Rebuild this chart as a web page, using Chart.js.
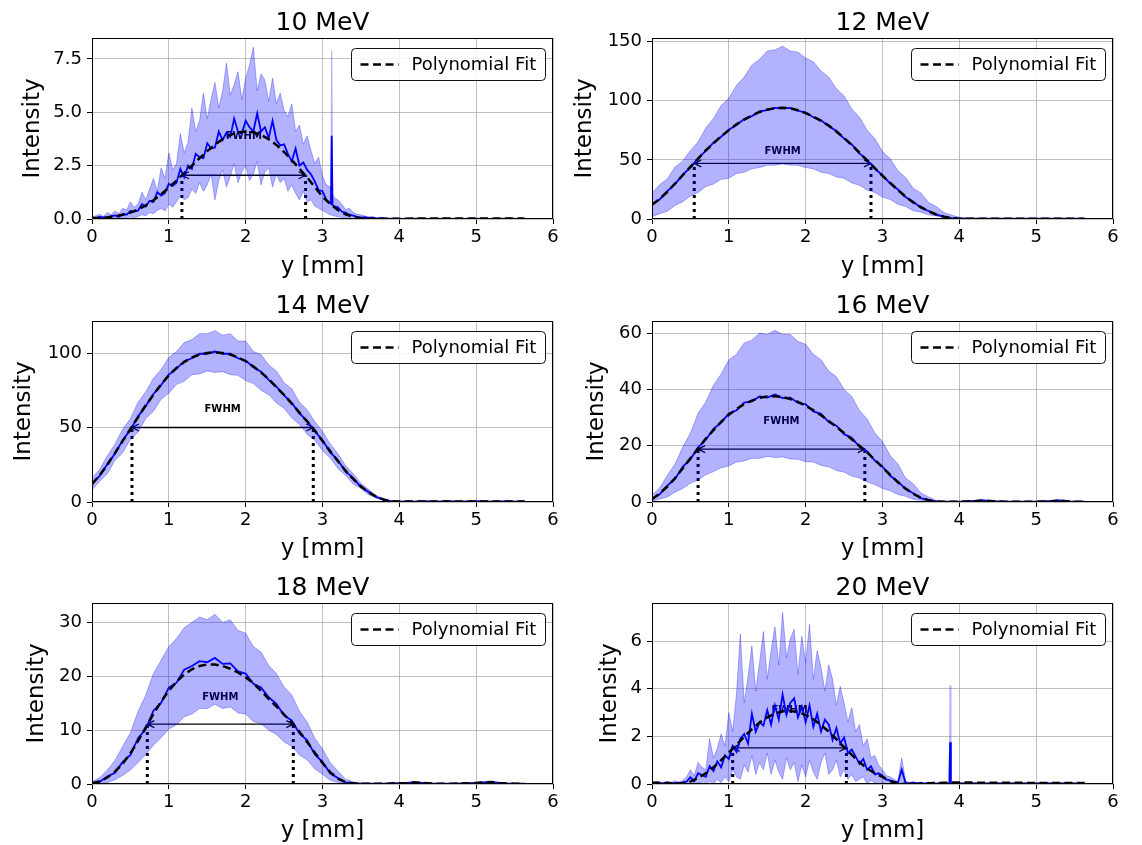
<!DOCTYPE html>
<html>
<head>
<meta charset="utf-8">
<script src="https://cdn.jsdelivr.net/npm/chart.js@4.4.1/dist/chart.umd.min.js"></script>
<style>
  body { margin: 0; background: #fff; }
  #page { position: relative; width: 1142px; height: 845px; overflow: hidden; }
  .cell { position: absolute; }
</style>
</head>
<body>
<div id="page"></div>
<script>
// x grids (mm)
const xCoarse = [0,0.1,0.2,0.3,0.4,0.5,0.6,0.7,0.8,0.9,
  1,1.1,1.2,1.3,1.4,1.5,1.6,1.7,1.8,1.9,
  2,2.1,2.2,2.3,2.4,2.5,2.6,2.7,2.8,2.9,
  3,3.1,3.2,3.3,3.4,3.5,3.6,3.7,3.8,3.9,
  4,4.1,4.2,4.3,4.4,4.5,4.6,4.7,4.8,4.9,
  5,5.1,5.2,5.3,5.4,5.5,5.63];
const xFine = [0,0.05,0.1,0.15,0.2,0.25,0.3,0.35,0.4,0.45,
  0.5,0.55,0.6,0.65,0.7,0.75,0.8,0.85,0.9,0.95,
  1,1.05,1.1,1.15,1.2,1.25,1.3,1.35,1.4,1.45,
  1.5,1.55,1.6,1.65,1.7,1.75,1.8,1.85,1.9,1.95,
  2,2.05,2.1,2.15,2.2,2.25,2.3,2.35,2.4,2.45,
  2.5,2.55,2.6,2.65,2.7,2.75,2.8,2.85,2.9,2.95,
  3,3.05,3.1,3.15,3.2,3.25,3.3,3.35,3.4,3.45,
  3.5,3.55,3.6,3.65,3.7,3.75,3.8,3.85,3.9,3.95,
  4,4.2,4.4,4.6,4.8,5,5.2,5.4,5.63];

const titles = ['10 MeV', '12 MeV', '14 MeV', '16 MeV', '18 MeV', '20 MeV'];

// 10 MeV (fine grid for measured, coarse for fit)
const mean10 = [0.06,0.04,0.1,0.08,0.05,0.13,0.17,0.1,0.24,0.2,
  0.38,0.35,0.4,0.7,0.58,0.85,0.8,1.25,1.1,1.22,
  1.65,1.55,1.7,2.35,1.95,2.5,2.35,3.05,2.9,2.85,
  3.55,3.3,3.35,4.1,3.7,4.05,3.85,4.7,4.1,4.0,
  4.6,4.3,4.1,4.95,4.1,4.3,3.8,4.6,3.7,3.45,
  3.5,3.05,2.7,3.3,2.5,2.65,2.3,2.1,1.75,1.35,
  1.3,0.9,0.75,0.6,0.55,0.35,0.3,0.2,0.16,0.1,
  0.06,0.09,0.04,0.05,0.02,0.04,0.03,0.01,0.02,0.02,
  0.01,0.02,0.01,0.02,0.01,0.02,0.01,0.02,0.01];
const upper10 = [0.1,0.15,0.22,0.12,0.3,0.2,0.38,0.25,0.5,0.42,
  0.8,0.55,0.7,1.25,0.9,1.4,1.9,1.3,2.4,1.9,
  3.1,2.3,2.6,4.0,3.1,3.6,5.2,4.1,4.6,5.9,
  4.7,5.6,6.4,5.2,6.0,7.3,5.8,6.3,6.9,5.6,
  6.6,7.2,8.05,6.0,6.8,6.5,5.5,6.6,5.4,5.9,
  5.1,4.8,5.4,4.1,4.4,3.5,3.9,3.2,2.6,2.9,
  2.0,1.6,1.5,1.0,0.9,0.7,0.45,0.5,0.3,0.22,
  0.2,0.14,0.1,0.12,0.06,0.08,0.05,0.03,0.04,0.02,
  0.03,0.02,0.03,0.02,0.03,0.02,0.03,0.02,0.02];
const lower10 = [0,0.01,0,0.02,0.01,0,0.04,0.02,0.05,0.03,
  0.1,0.06,0.12,0.2,0.15,0.3,0.25,0.4,0.5,0.38,
  0.7,0.55,0.8,1.1,0.9,1.0,1.4,1.2,1.7,1.3,
  1.6,2.1,0.9,1.8,2.3,1.5,2.0,2.6,1.7,2.2,
  2.5,1.8,2.1,2.7,1.6,2.2,2.4,1.5,2.1,1.7,
  1.9,1.3,1.6,1.2,0.9,1.3,0.8,0.9,0.6,0.5,
  0.4,0.3,0.2,0.15,0.1,0.08,0.05,0.03,0.02,0,
  0,0,0,0,0,0,0,0,0,0,
  0,0,0,0,0,0,0,0,0];
const fit10 = [0.05,0.06,0.08,0.12,0.2,0.3,0.45,0.64,0.88,1.16,
  1.47,1.8,2.15,2.5,2.85,3.18,3.48,3.74,3.94,4.06,
  4.1,4.06,3.94,3.74,3.47,3.14,2.76,2.36,1.95,1.5,
  1.05,0.7,0.42,0.22,0.1,0.04,0.02,0.01,0.01,0.01,
  0.01,0.01,0.02,0.02,0.02,0.02,0.02,0.02,0.02,0.02,
  0.02,0.02,0.02,0.02,0.02,0.02,0.02];
const spike10X = [3.11, 3.12, 3.13];
const spike10Mean = [0.7, 3.9, 0.7];
const spike10Upper = [1.3, 7.9, 1.3];

// 12 MeV
const fit12 = [12,17,23,30,37,44,51,58,64,70,
  75,80,84,87.5,90.5,92.5,93.5,94,93.5,92,
  89.5,86.5,83,79,74,68.5,62.5,56,49.5,43,
  36.5,30.5,24.5,19,14,10,6.5,3.8,2,0.8,
  0.3,0.2,0.2,0.2,0.2,0.2,0.2,0.2,0.2,0.2,
  0.2,0.2,0.2,0.2,0.2,0.2,0.2];
const mean12 = [12.5,16.5,23.5,29.5,37.5,43.5,51.5,57.5,64.5,69.5,
  75.5,79.5,84.5,87,91,92,94,93.5,94,91.5,
  90,86,83.5,78.5,74.5,68,63,55.5,50,42.5,
  37,30,25,18.5,14.5,9.5,6.8,3.6,2.1,0.7,
  0.3,0.2,0.3,0.2,0.2,0.3,0.2,0.2,0.3,0.2,
  0.2,0.3,0.2,0.2,0.3,0.2,0.2];
const upper12 = [22,29,34,44,49,58,65,77,85,96,
  102,113,120,130,135,142,143,146,142,141,
  136,133,125,120,110,104,93,86,75,68,
  57,51,41,35,26,22,14,10.5,5.5,3.2,
  1.4,0.8,0.5,0.4,0.3,0.3,0.3,0.3,0.3,0.3,
  0.3,0.3,0.3,0.3,0.3,0.3,0.3];
const lower12 = [2,4.5,6.5,11.5,14.5,19.5,22.5,27.5,29.5,33.5,
  34.5,38.5,39.5,42.5,43.5,45.5,45.5,46.5,45.5,45.5,
  43.5,42.5,39.5,38.5,35.5,34.5,30.5,28.5,24.5,22.5,
  18.5,16.5,12.5,10.5,7,5.8,3.5,2.6,1.1,0.7,
  0.2,0.1,0.1,0.1,0.1,0.1,0.1,0.1,0.1,0.1,
  0.1,0.1,0.1,0.1,0.1,0.1,0.1];

// 14 MeV
const fit14 = [12,18,25,33,41,49,57,65,72,79,
  85,90,94,97,99,100,100.5,100,99,97,
  94.5,91,87,82.5,77,72,66,60,54,48,
  41,34,27.5,21,15.5,10.5,6.5,3.5,1.5,0.5,
  0.3,0.3,0.3,0.4,0.4,0.4,0.4,0.4,0.4,0.4,
  0.4,0.4,0.4,0.4,0.4,0.4,0.4];
const mean14 = [12.5,17.5,25.5,32.5,41.5,48.5,57.5,64.5,72.5,78.5,
  85.5,89.5,94.5,96.5,99.5,99.5,101,99.5,99.5,96.5,
  95,90.5,87.5,82,77.5,71.5,66.5,59.5,54.5,47.5,
  41.5,33.5,28,20.5,16,10,6.8,3.3,1.6,0.4,
  0.3,0.4,0.3,0.5,0.4,0.3,0.5,0.4,0.3,0.4,
  0.5,0.4,0.3,0.4,0.4,0.3,0.4];
const upper14 = [16,22,31,39,49,56,67,74,83,89,
  97,101,107,109,113,113,115,112,113,108,
  108,101,99,92,88,80,76,67,62,54,
  47.5,39,32.5,24.5,19,12.5,8.5,4.2,2.2,0.8,
  0.5,0.5,0.5,0.6,0.6,0.6,0.6,0.6,0.6,0.6,
  0.6,0.6,0.6,0.6,0.6,0.6,0.6];
const lower14 = [8,14,19,28,33,42,47,56,61,69,
  73,79,81,85.5,86,88,87,87.5,85.5,85,
  81.5,79.5,75,72,66.5,63,56.5,52,45.5,41.5,
  34.5,29.5,22.5,18,12,9,4.8,2.8,0.9,0.3,
  0.1,0.1,0.1,0.1,0.1,0.1,0.1,0.1,0.1,0.1,
  0.1,0.1,0.1,0.1,0.1,0.1,0.1];

// 16 MeV
const fit16 = [1,3,5.5,8.5,12,15.5,19,22.5,25.5,28.5,
  31,33,34.8,36,37,37.5,37.6,37.3,36.6,35.6,
  34.2,32.6,30.8,28.8,26.7,24.5,22.3,20,17.6,15,
  12.3,9.6,7,4.8,2.9,1.5,0.6,0.2,0.1,0.1,
  0.1,0.2,0.3,0.5,0.4,0.2,0.1,0.1,0.1,0.1,
  0.1,0.2,0.3,0.5,0.3,0.1,0.1];
const mean16 = [1.2,2.7,5.8,8.2,12.5,15.2,19.4,22.1,26,28.2,
  31.4,32.6,35.3,35.7,37.5,37.1,38.2,36.9,37.1,35.2,
  34.7,32.2,31.3,28.4,27.1,24.1,22.8,19.6,18,14.7,
  12.6,9.3,7.3,4.6,3.1,1.4,0.7,0.2,0.1,0.1,
  0.1,0.2,0.4,0.6,0.3,0.2,0.1,0.1,0.1,0.1,
  0.1,0.3,0.4,0.6,0.2,0.1,0.1];
const upper16 = [2.5,5,9.5,13.5,19.5,24.5,31.5,35.5,41.5,45.5,
  50.5,52.5,56.5,57.5,60,59.5,61,59.5,59.5,57,
  56,52.5,50.5,46.5,44.5,40,37.5,32.5,29.5,24.5,
  21.5,16.5,13.5,8.5,6.5,3.2,1.8,0.5,0.2,0.2,
  0.2,0.3,0.5,0.8,0.6,0.3,0.2,0.2,0.2,0.2,
  0.2,0.3,0.5,0.8,0.4,0.2,0.2];
const lower16 = [0.2,1.1,1.8,3.5,4.8,6.7,7.8,9.7,10.8,12.2,
  12.8,14.2,14.6,15.5,15.5,16.2,15.8,16,15.3,15.2,
  14.3,14.2,13,12.5,11.2,10.6,9.2,8.5,7.1,6.2,
  4.8,4,2.7,2,1,0.6,0.15,0.05,0,0,
  0,0,0,0,0,0,0,0,0,0,
  0,0,0,0,0,0,0];

// 18 MeV
const fit18 = [0.1,0.5,1.2,2.3,3.8,5.7,8,10.5,13,15.3,
  17.3,19,20.3,21.3,21.9,22.2,22.2,21.9,21.4,20.7,
  19.8,18.7,17.3,15.8,14.4,12.9,11.4,9.7,7.8,5.8,
  3.9,2.2,1.0,0.35,0.1,0.05,0.05,0.05,0.05,0.1,
  0.15,0.2,0.3,0.2,0.1,0.05,0.05,0.05,0.1,0.15,
  0.2,0.3,0.35,0.2,0.1,0.05,0.05];
const mean18 = [0.2,0.4,1.4,2.1,4.1,5.4,8.5,10.2,13.6,15.1,
  17.9,18.8,21.2,21.9,22.8,22.6,23.4,22.3,22.4,20.9,
  20.5,18.6,17.9,16.1,14.9,12.7,11.8,9.4,8.1,5.5,
  4.1,2,1.1,0.3,0.15,0.05,0.05,0.05,0.05,0.1,
  0.15,0.2,0.3,0.2,0.1,0.05,0.05,0.05,0.1,0.15,
  0.2,0.3,0.35,0.2,0.1,0.05,0.05];
const upper18 = [0.4,1.2,2.6,4.4,7,9.5,13.5,16.5,20.5,23,
  25.5,27,29,30,31,30.5,31.5,30,30.5,28.5,
  28,25.5,24.5,22,20.5,18,16.5,13.5,11.5,8.5,
  6.5,4,2.4,0.9,0.4,0.15,0.1,0.1,0.1,0.15,
  0.2,0.3,0.4,0.3,0.15,0.1,0.1,0.1,0.15,0.2,
  0.3,0.4,0.45,0.3,0.15,0.1,0.1];
const lower18 = [0,0,0.3,0.8,1.6,2.6,4,5.5,7.2,8.6,
  10.2,11,12.5,13,14,14,14.8,14,14.3,13.2,
  13,11.6,11.2,10,9.2,7.8,7,5.4,4.5,2.8,
  1.8,0.7,0.3,0.05,0,0,0,0,0,0,
  0,0,0,0,0,0,0,0,0,0,
  0,0,0,0,0,0,0];

// 20 MeV (fine grid for measured, coarse for fit)
const mean20 = [0.02,0.05,0.04,0.03,0.06,0.02,0.05,0.03,0.07,0.1,
  0.28,0.12,0.45,0.38,0.3,0.75,0.55,0.95,0.7,1.2,
  1.05,1.6,1.35,1.9,2.1,1.7,2.95,2.2,2.6,2.45,
  3.1,2.5,3.3,2.7,3.75,2.9,3.4,3.6,2.8,3.25,
  2.6,3.3,2.4,2.95,2.2,2.7,2.5,1.85,2.35,1.7,
  1.95,1.3,1.45,1.15,0.85,1.05,0.6,0.75,0.4,0.45,
  0.35,0.18,0.15,0.1,0.05,0.6,0.05,0.03,0.06,0.02,
  0.04,0.02,0.05,0.03,0.02,0.04,0.03,0.02,0.03,0.02,
  0.02,0.03,0.02,0.03,0.02,0.02,0.03,0.02,0.02];
const upper20 = [0.06,0.1,0.08,0.05,0.12,0.06,0.14,0.08,0.15,0.3,
  0.6,0.35,0.9,0.7,0.6,1.9,1.1,1.5,2.1,1.6,
  3.0,2.2,3.8,6.3,3.4,4.5,5.8,3.9,5.1,6.4,
  4.4,5.6,6.6,5.0,7.2,5.3,6.1,6.5,4.6,6.2,
  5.1,6.7,4.4,5.6,4.9,3.9,5.0,4.4,3.3,4.1,
  3.4,2.6,3.2,2.2,2.5,1.6,1.9,1.1,1.2,0.8,
  0.6,0.35,0.3,0.2,0.1,1.1,0.12,0.06,0.1,0.05,
  0.08,0.04,0.07,0.05,0.04,0.07,0.05,0.04,0.06,0.04,
  0.04,0.05,0.04,0.05,0.04,0.04,0.05,0.04,0.04];
const lower20 = [0,0,0,0,0,0,0,0,0,0,
  0,0,0.05,0.02,0,0.12,0,0.2,0.05,0.3,
  0.1,0.6,0.3,0.2,0.8,0.5,1.2,0.4,0.9,0.6,
  1.3,0.4,1.0,0.5,0.2,1.1,0.6,0.9,0.1,0.8,
  0.3,1.0,0.5,0.2,0.9,1.3,0.4,0.6,1.0,0.3,
  0.6,0.2,0.4,0.1,0.2,0.3,0,0.15,0.05,0,
  0.05,0,0,0,0,0,0,0,0,0,
  0,0,0,0,0,0,0,0,0,0,
  0,0,0,0,0,0,0,0,0];
const fit20 = [0.05,0.05,0.04,0.03,0.03,0.1,0.25,0.45,0.7,1.0,
  1.32,1.65,1.98,2.3,2.58,2.8,2.96,3.05,3.07,3.02,
  2.9,2.72,2.48,2.2,1.88,1.55,1.22,0.92,0.65,0.45,
  0.3,0.12,0.03,0,0,0.02,0.03,0.04,0.05,0.06,
  0.06,0.06,0.06,0.05,0.05,0.05,0.05,0.05,0.05,0.04,
  0.04,0.04,0.04,0.04,0.04,0.04,0.04];
const spike20X = [3.87, 3.88, 3.89];
const spike20Mean = [0.02, 1.75, 0.02];
const spike20Upper = [0.04, 4.15, 0.04];

// FWHM annotation values
const halfMax = [2.05, 47, 50, 18.8, 11.1, 1.52];
const fwhmLeft = [1.17, 0.55, 0.52, 0.6, 0.72, 1.05];
const fwhmRight = [2.78, 2.85, 2.88, 2.77, 2.62, 2.53];
const fwhmLabelY = [3.85, 57, 62, 28.8, 16.1, 3.07];

// axes
const yMax = [8.48, 153, 121.5, 64.3, 33.6, 7.6];
const yStep = [2.5, 50, 50, 20, 10, 2];
const yDecimals = [1, 0, 0, 0, 0, 0];

const panels = [
  { fit: fit10, mx: xFine, mean: mean10, upper: upper10, lower: lower10, sx: spike10X, sm: spike10Mean, su: spike10Upper },
  { fit: fit12, mx: xCoarse, mean: mean12, upper: upper12, lower: lower12 },
  { fit: fit14, mx: xCoarse, mean: mean14, upper: upper14, lower: lower14 },
  { fit: fit16, mx: xCoarse, mean: mean16, upper: upper16, lower: lower16 },
  { fit: fit18, mx: xCoarse, mean: mean18, upper: upper18, lower: lower18 },
  { fit: fit20, mx: xFine, mean: mean20, upper: upper20, lower: lower20, sx: spike20X, sm: spike20Mean, su: spike20Upper }
];

// layout of the 2x3 grid
const cellX = [0, 571, 0, 571, 0, 571];
const cellY = [0, 0, 282, 282, 564, 564];
const cellH = [282, 282, 282, 282, 281, 281];
const padL = [19, 0, 10, 12, 23, 25];
const yAxisW = [73, 81, 82, 69, 69, 56];
const padR = [18, 29, 18, 29, 18, 29];
const padT = [38, 38, 39, 39, 39, 39];
const padB = [1, 1, 1, 1, 0, 0];
const xAxisH = [62, 62, 61, 61, 61, 61];

Chart.defaults.font.family = '"DejaVu Sans", sans-serif';

const band = 'rgba(0,0,255,0.3)';
const FONT = '"DejaVu Sans", sans-serif';

const pts = (xs, ys) => xs.map((x, k) => ({ x: x, y: ys[k] }));

const decor = {
  id: 'decor',
  beforeDatasetsDraw(chart, args, opts) {
    const { ctx, scales: { x, y } } = chart;
    const i = opts.idx;
    const yh = y.getPixelForValue(halfMax[i]);
    const y0 = y.getPixelForValue(0);
    const xl = x.getPixelForValue(fwhmLeft[i]);
    const xr = x.getPixelForValue(fwhmRight[i]);
    ctx.save();
    ctx.strokeStyle = '#000';
    ctx.lineWidth = 3;
    ctx.setLineDash([3, 4]);
    ctx.beginPath();
    ctx.moveTo(xl, y0); ctx.lineTo(xl, yh);
    ctx.moveTo(xr, y0); ctx.lineTo(xr, yh);
    ctx.stroke();
    ctx.setLineDash([]);
    ctx.lineWidth = 1.3;
    ctx.beginPath();
    ctx.moveTo(xl, yh); ctx.lineTo(xr, yh);
    ctx.moveTo(xl + 7, yh - 3.5); ctx.lineTo(xl, yh); ctx.lineTo(xl + 7, yh + 3.5);
    ctx.moveTo(xr - 7, yh - 3.5); ctx.lineTo(xr, yh); ctx.lineTo(xr - 7, yh + 3.5);
    ctx.stroke();
    ctx.font = 'bold 10px ' + FONT;
    ctx.fillStyle = '#000';
    ctx.textAlign = 'center';
    ctx.textBaseline = 'middle';
    ctx.fillText('FWHM', x.getPixelForValue((fwhmLeft[i] + fwhmRight[i]) / 2), y.getPixelForValue(fwhmLabelY[i]));
    ctx.restore();
  },
  afterDatasetsDraw(chart) {
    const { ctx, chartArea: a } = chart;
    ctx.save();
    ctx.strokeStyle = '#000';
    ctx.lineWidth = 1;
    ctx.strokeRect(Math.round(a.left) + 0.5, Math.round(a.top) + 0.5, Math.round(a.right - a.left) - 1, Math.round(a.bottom - a.top) - 1);
    ctx.restore();
  },
  afterDraw(chart, args, opts) {
    const { ctx, chartArea: a } = chart;
    const i = opts.idx;
    ctx.save();
    // title
    ctx.font = '25px ' + FONT;
    ctx.fillStyle = '#000';
    ctx.textAlign = 'center';
    ctx.textBaseline = 'alphabetic';
    ctx.fillText(titles[i], (a.left + a.right) / 2, a.top - 8);
    // legend
    const bw = 194, bh = 32, r = 4;
    const bx = Math.round(a.right) - 8 - bw + 0.5, by = Math.round(a.top) + 10 + 0.5;
    ctx.beginPath();
    ctx.moveTo(bx + r, by);
    ctx.lineTo(bx + bw - r, by);
    ctx.arcTo(bx + bw, by, bx + bw, by + r, r);
    ctx.lineTo(bx + bw, by + bh - r);
    ctx.arcTo(bx + bw, by + bh, bx + bw - r, by + bh, r);
    ctx.lineTo(bx + r, by + bh);
    ctx.arcTo(bx, by + bh, bx, by + bh - r, r);
    ctx.lineTo(bx, by + r);
    ctx.arcTo(bx, by, bx + r, by, r);
    ctx.closePath();
    ctx.fillStyle = 'rgba(255,255,255,0.85)';
    ctx.fill();
    ctx.strokeStyle = '#111';
    ctx.lineWidth = 1;
    ctx.stroke();
    ctx.setLineDash([8, 4.5]);
    ctx.lineWidth = 2.5;
    ctx.strokeStyle = '#000';
    ctx.beginPath();
    ctx.moveTo(bx + 9, by + bh / 2);
    ctx.lineTo(bx + 47, by + bh / 2);
    ctx.stroke();
    ctx.setLineDash([]);
    ctx.font = '18px ' + FONT;
    ctx.fillStyle = '#000';
    ctx.textAlign = 'left';
    ctx.textBaseline = 'middle';
    ctx.fillText('Polynomial Fit', bx + 60, by + bh / 2 + 1);
    ctx.restore();
  }
};

const page = document.getElementById('page');

panels.forEach((p, i) => {
  const cell = document.createElement('div');
  cell.className = 'cell';
  cell.style.left = cellX[i] + 'px';
  cell.style.top = cellY[i] + 'px';
  cell.style.width = '571px';
  cell.style.height = cellH[i] + 'px';
  const canvas = document.createElement('canvas');
  cell.appendChild(canvas);
  page.appendChild(cell);

  const datasets = [
    { data: pts(xCoarse, p.fit), borderColor: '#000', borderWidth: 2.5, borderDash: [8, 4.5], order: 0 },
    { data: pts(p.mx, p.mean), borderColor: '#0000ff', borderWidth: 1.8, order: 1 }
  ];
  if (p.sx) {
    datasets.push({ data: pts(p.sx, p.sm), borderColor: '#0000ff', borderWidth: 1.8, order: 1 });
    datasets.push({ data: pts(p.sx, p.su), borderColor: band, borderWidth: 1.2, order: 2 });
  }
  const lowerIdx = datasets.length + 1;
  datasets.push({ data: pts(p.mx, p.upper), borderColor: band, borderWidth: 1, backgroundColor: band, fill: lowerIdx, order: 3 });
  datasets.push({ data: pts(p.mx, p.lower), borderColor: band, borderWidth: 1, order: 4 });

  const gridOpts = { color: '#b0b0b0', lineWidth: 0.8, tickColor: '#000', tickLength: 5, tickWidth: 1 };

  new Chart(canvas, {
    type: 'line',
    data: { datasets: datasets },
    options: {
      responsive: true,
      maintainAspectRatio: false,
      animation: false,
      events: [],
      layout: { padding: { left: padL[i], right: padR[i], top: padT[i], bottom: padB[i] } },
      elements: { point: { radius: 0 }, line: { tension: 0 } },
      plugins: {
        legend: { display: false },
        tooltip: { enabled: false },
        decor: { idx: i }
      },
      scales: {
        x: {
          type: 'linear', min: 0, max: 6,
          afterFit: s => { s.height = xAxisH[i]; },
          ticks: { stepSize: 1, color: '#000', font: { size: 18 }, padding: 3, maxRotation: 0, autoSkip: false, includeBounds: false },
          grid: gridOpts,
          border: { display: false },
          title: { display: true, text: 'y [mm]', color: '#000', font: { size: 23 }, padding: 0 }
        },
        y: {
          type: 'linear', min: 0, max: yMax[i],
          afterFit: s => { s.width = yAxisW[i]; },
          ticks: { stepSize: yStep[i], color: '#000', font: { size: 18 }, padding: 5, includeBounds: false,
                   callback: v => v.toFixed(yDecimals[i]) },
          grid: gridOpts,
          border: { display: false },
          title: { display: true, text: 'Intensity', color: '#000', font: { size: 23 }, padding: 0 }
        }
      }
    },
    plugins: [decor]
  });
});
</script>
</body>
</html>
